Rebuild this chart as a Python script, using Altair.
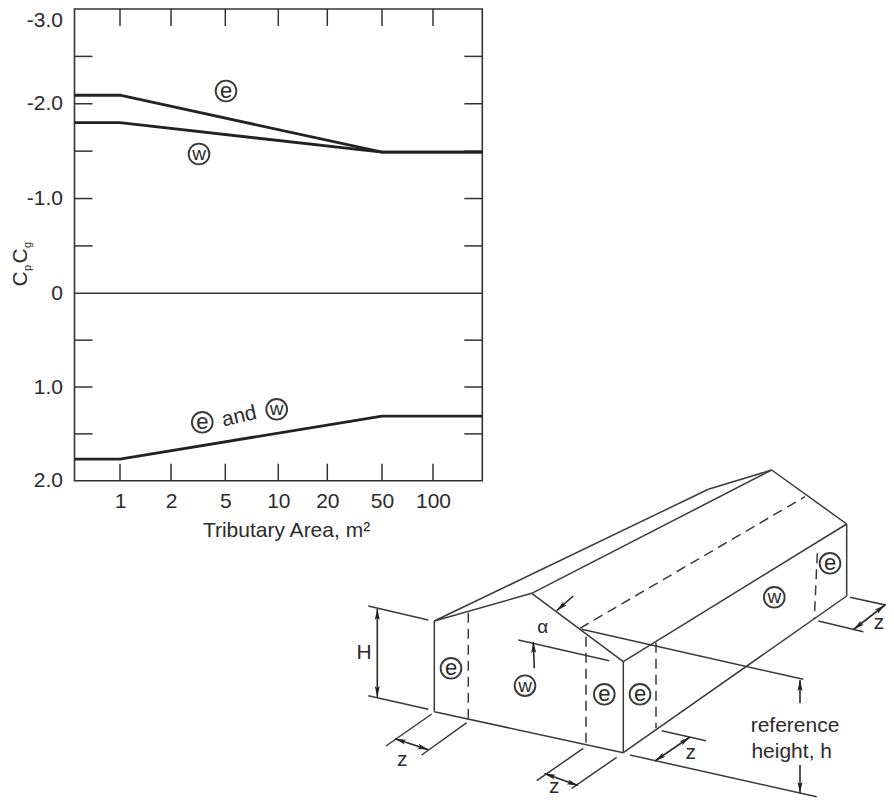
import math
import altair as alt
import pandas as pd

FONT = "Liberation Sans"
INK = "#2b2b2b"
W, H = 878, 792

# ---- chart values
area_ticks = [1, 2, 5, 10, 20, 50, 100]
area_domain = [0.5, 1, 2, 5, 10, 20, 50, 100, 200]
area_pixels = [66.5, 112, 163, 217.3, 270.3, 319.3, 374, 425, 474.3]
coef_domain = [-3, 0, 2]
coef_pixels = [1, 285.3, 472.7]
coef_labels = [-3, -2, -1, 0, 1, 2]
coef_ticks = [-2.5, -2, -1.5, -1, -0.5, 0.5, 1, 1.5]

line_area = [0.5, 1, 50, 200]
series_e = [-2.09, -2.09, -1.49, -1.49]
series_w = [-1.8, -1.8, -1.49, -1.49]
series_pos = [1.77, 1.77, 1.31, 1.31]

# ---- diagram (picture coordinates)
solid = [
    (434.3, 621, 434.3, 711.7), (434.3, 711.7, 623.3, 752.7), (434.3, 621, 531.7, 593.3),
    (531.7, 593.3, 623.3, 661.7), (623.3, 661.7, 623.3, 752.7), (434.3, 621, 708.3, 489.3),
    (708.3, 489.3, 771.7, 470), (531.7, 593.3, 771.7, 470), (771.7, 470, 846.7, 524),
    (623.3, 661.7, 846.7, 524), (846.7, 524, 846.7, 596), (623.3, 752.7, 846.7, 596),
    (581.7, 629.3, 803.3, 679.3), (630, 755, 816.7, 796.7), (518.3, 640, 609.3, 660.7),
    (368.3, 606, 428.3, 620), (368.3, 695.7, 428.3, 709.3),
    (386, 746, 431.7, 714), (421.7, 755, 466.7, 722.7),
    (536.7, 780.7, 583.3, 748.3), (571.7, 788.3, 616.7, 757.3),
    (661.7, 730.7, 706, 740.7), (850, 597.3, 893.3, 606.7), (818.3, 621, 863.3, 631.7),
]
dashed = [
    (580, 628.3, 805, 496.7), (468.3, 612.7, 468.3, 718.3), (586, 636.7, 586, 744),
    (656, 642.7, 656, 728.3), (817.3, 553.3, 814.3, 619.3),
]
# tail x, tail y, tip x, tip y, heads at both ends
arrows = [
    (534.3, 668.3, 533.3, 642, 0), (573.3, 596, 556.7, 610.7, 0),
    (377.3, 609, 377.3, 697, 1), (395, 738.7, 428.5, 749.7, 1),
    (544.5, 773.5, 578, 785.5, 1), (655, 761, 690, 737, 1), (853.5, 629.5, 885, 605, 1),
    (800, 703.3, 800, 680, 0), (800, 765, 800, 793, 0),
]
rings = [
    (226, 91, "e"), (199, 154, "w"), (202.3, 422.3, "e"), (276.7, 409.3, "w"),
    (451, 668.3, "e"), (525, 685.7, "w"), (604.3, 694.3, "e"), (640, 694.3, "e"),
    (774.3, 597.3, "w"), (830, 563.3, "e"),
]
notes = [
    (239.3, 416.7, "and", 21, 347), (364, 652.7, "H", 21, 0), (542.7, 627, "\u03b1", 19, 0),
    (402.3, 760, "z", 21, 0), (554.3, 787, "z", 21, 0), (690.7, 753, "z", 21, 0),
    (879, 623, "z", 21, 0), (795, 725.7, "reference", 21, 0), (791.7, 751.7, "height, h", 21, 0),
    (21, 279, "C", 21, 270), (28, 268, "p", 11, 270), (21, 256, "C", 21, 270), (28, 245, "g", 11, 270),
]

x_area = alt.Scale(type="linear", domain=area_domain, range=area_pixels, nice=False, zero=False)
y_coef = alt.Scale(type="linear", domain=coef_domain, range=coef_pixels, nice=False, zero=False)
x_pic = alt.Scale(type="linear", domain=[0, 894], range=[-8, 886], nice=False, zero=False)
y_pic = alt.Scale(type="linear", domain=[0, 809], range=[-8, 801], nice=False, zero=False)


def qx(f, **k):
    return alt.X(f + ":Q", scale=x_area, **k)


def qy(f, **k):
    return alt.Y(f + ":Q", scale=y_coef, **k)


# ---- chart layers
frame = alt.Chart(pd.DataFrame({"a": [area_domain[0]], "b": [area_domain[-1]], "c": [-3], "d": [2]})).mark_rect(
    fillOpacity=0, stroke="#333333", strokeWidth=1.6
).encode(
    x=qx("a", axis=alt.Axis(
        orient="bottom", offset=472.7 - H, values=area_ticks, format="d", ticks=False, domain=False, grid=False,
        labelFont=FONT, labelFontSize=21, labelColor=INK, labelPadding=9.5,
        title="Tributary Area, m\u00b2", titleFont=FONT, titleFontSize=21, titleFontWeight="normal",
        titleColor=INK, titlePadding=8.5, titleX=278,
    )),
    x2="b:Q",
    y=qy("c", axis=alt.Axis(
        orient="left", offset=-66.5, values=coef_labels, ticks=False, domain=False, grid=False,
        labelFont=FONT, labelFontSize=21, labelColor=INK, labelPadding=12,
        labelExpr="datum.value == 0 ? '0' : (datum.value < 0 ? '-' : '') + format(abs(datum.value), '.1f')",
        labelBaseline=alt.expr("datum.value == -3 ? 'top' : 'middle'"),
        title=None,
    )),
    y2="d:Q",
)
zero = alt.Chart(pd.DataFrame({"a": [area_domain[0]], "b": [area_domain[-1]], "c": [0]})).mark_rule(
    color="#333333", strokeWidth=1.5
).encode(x=qx("a"), x2="b:Q", y=qy("c"))

tick_style = dict(color="#333333", strokeWidth=1.5)
x_tick_df = pd.DataFrame({"a": area_ticks})
y_tick_df = pd.DataFrame({"c": coef_ticks})
top_ticks = alt.Chart(x_tick_df).mark_rule(**tick_style).encode(x=qx("a"), y=alt.value(1), y2=alt.value(18))
bot_ticks = alt.Chart(x_tick_df).mark_rule(**tick_style).encode(x=qx("a"), y=alt.value(455.7), y2=alt.value(472.7))
left_ticks = alt.Chart(y_tick_df).mark_rule(**tick_style).encode(y=qy("c"), x=alt.value(66.5), x2=alt.value(84.5))
right_ticks = alt.Chart(y_tick_df).mark_rule(**tick_style).encode(y=qy("c"), x=alt.value(456.3), x2=alt.value(474.3))

curves = pd.DataFrame({
    "a": line_area * 3,
    "v": series_e + series_w + series_pos,
    "s": ["e"] * 4 + ["w"] * 4 + ["p"] * 4,
})
lines = alt.Chart(curves).mark_line(color="#222222", strokeWidth=2.8).encode(
    x=qx("a"), y=qy("v"), detail="s:N", order="a:Q"
)
plot = alt.layer(frame, zero, top_ticks, bot_ticks, left_ticks, right_ticks, lines)

# ---- diagram layers


def px(f):
    return alt.X(f + ":Q", scale=x_pic, axis=None)


def py(f):
    return alt.Y(f + ":Q", scale=y_pic, axis=None)


seg_cols = ["x1", "y1", "x2", "y2"]
solid_l = alt.Chart(pd.DataFrame(solid, columns=seg_cols)).mark_rule(color="#3a3a3a", strokeWidth=1.5).encode(
    x=px("x1"), y=py("y1"), x2="x2:Q", y2="y2:Q"
)
dash_l = alt.Chart(pd.DataFrame(dashed, columns=seg_cols)).mark_rule(
    color="#3a3a3a", strokeWidth=1.5, strokeDash=[10, 6]
).encode(x=px("x1"), y=py("y1"), x2="x2:Q", y2="y2:Q")

shafts, heads = [], []
for x0, y0, x1, y1, both in arrows:
    shafts.append((x0, y0, x1, y1))
    ang = math.degrees(math.atan2(x1 - x0, -(y1 - y0))) % 360
    heads.append((x1, y1, ang))
    if both:
        heads.append((x0, y0, (ang + 180) % 360))
shaft_l = alt.Chart(pd.DataFrame(shafts, columns=seg_cols)).mark_rule(color="#2b2b2b", strokeWidth=1.6).encode(
    x=px("x1"), y=py("y1"), x2="x2:Q", y2="y2:Q"
)
head_l = alt.Chart(pd.DataFrame(heads, columns=["x", "y", "a"])).mark_point(
    shape="M0,0 L0.55,2.4 L0,1.9 L-0.55,2.4 Z", filled=True, color="#222222", opacity=1, size=85
).encode(x=px("x"), y=py("y"), angle=alt.Angle("a:Q", scale=None))

ring_df = pd.DataFrame(rings, columns=["x", "y", "t"])
ring_l = alt.Chart(ring_df).mark_point(
    shape="circle", filled=False, stroke="#3a3a3a", strokeWidth=1.9, size=430, opacity=1
).encode(x=px("x"), y=py("y"))
ring_e = alt.Chart(ring_df[ring_df.t == "e"]).mark_text(
    font=FONT, fontSize=22, color=INK, align="center", baseline="middle"
).encode(x=px("x"), y=py("y"), text="t:N")
ring_w = alt.Chart(ring_df[ring_df.t == "w"]).mark_text(
    font=FONT, fontSize=19, color=INK, align="center", baseline="middle"
).encode(x=px("x"), y=py("y"), text="t:N")
note_l = alt.Chart(pd.DataFrame(notes, columns=["x", "y", "t", "s", "a"])).mark_text(
    font=FONT, color=INK, align="center", baseline="middle"
).encode(
    x=px("x"), y=py("y"), text="t:N",
    size=alt.Size("s:Q", scale=None), angle=alt.Angle("a:Q", scale=None),
)
drawing = alt.layer(solid_l, dash_l, shaft_l, head_l, ring_l, ring_e, ring_w, note_l)

chart = alt.layer(plot, drawing).resolve_scale(x="independent", y="independent").properties(
    width=W, height=H, padding=0, autosize=alt.AutoSizeParams(type="none"), background="white"
).configure_view(stroke=None)

chart.save("out.html", embed_options={"renderer": "svg", "actions": False})
